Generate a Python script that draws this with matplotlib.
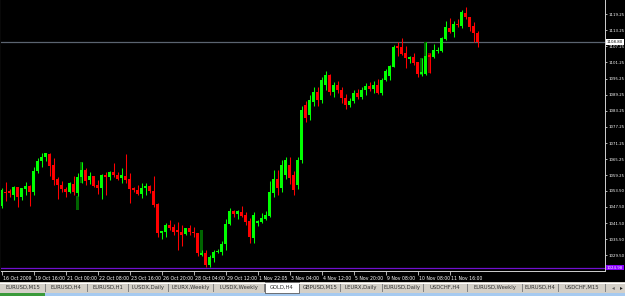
import numpy as np
import matplotlib
matplotlib.use("Agg")
import matplotlib.pyplot as plt
import matplotlib.transforms as mtransforms
from matplotlib.patches import Rectangle

# GOLD,H4 candles (index 0 = 16 Oct 2009)
opens = [1047.9, 1053.2, 1053.4, 1051.9, 1054.8, 1051.3, 1054.1, 1055.3, 1053.2, 1060.8,
         1064.6, 1066.2, 1067.2, 1063.2, 1057.8, 1055.7, 1054.2, 1053.2, 1056.0, 1052.8,
         1058.8, 1061.2, 1057.5, 1059.1, 1055.7, 1054.4, 1059.3, 1058.5, 1060.6, 1059.4,
         1058.2, 1059.1, 1057.9, 1054.4, 1053.8, 1052.3, 1054.4, 1055.4, 1053.6, 1048.6,
         1037.7, 1038.3, 1040.8, 1039.9, 1038.9, 1038.3, 1037.3, 1039.6, 1038.3, 1037.9,
         1029.6, 1030.3, 1025.9, 1028.4, 1030.9, 1030.9, 1033.7, 1041.2, 1046.1, 1044.9,
         1045.7, 1044.5, 1042.4, 1036.1, 1041.4, 1042.0, 1042.9, 1044.1, 1052.6, 1057.9,
         1054.4, 1059.4, 1063.1, 1059.4, 1055.7, 1065.0, 1085.4, 1081.7, 1086.5, 1090.2,
         1087.3, 1092.8, 1096.6, 1090.2, 1093.0, 1091.0, 1088.0, 1085.5, 1087.0, 1090.0,
         1088.5, 1091.0, 1092.5, 1091.5, 1093.0, 1089.9, 1094.7, 1096.2, 1099.7, 1107.4,
         1106.9, 1104.6, 1102.4, 1103.4, 1101.3, 1097.1, 1096.9, 1104.0, 1103.2, 1105.6,
         1105.6, 1109.8, 1114.2, 1112.7, 1115.5, 1114.8, 1119.7, 1118.0, 1114.8, 1112.3]
highs = [1054.5, 1056.9, 1054.2, 1055.3, 1055.0, 1054.7, 1056.7, 1055.7, 1062.2, 1065.6,
         1067.5, 1067.7, 1067.5, 1065.7, 1058.8, 1057.2, 1055.0, 1056.9, 1059.0, 1060.2,
         1064.1, 1061.9, 1060.6, 1059.1, 1057.5, 1059.8, 1060.4, 1061.0, 1063.7, 1060.6,
         1061.9, 1067.2, 1060.0, 1055.0, 1055.7, 1056.3, 1056.4, 1055.7, 1059.1, 1048.9,
         1038.6, 1041.4, 1042.6, 1041.2, 1042.0, 1040.8, 1039.6, 1040.8, 1040.2, 1037.9,
         1031.5, 1031.5, 1029.6, 1031.5, 1031.9, 1034.9, 1043.0, 1047.2, 1046.4, 1046.4,
         1048.0, 1045.5, 1043.3, 1045.5, 1042.6, 1045.1, 1046.0, 1057.2, 1061.2, 1061.2,
         1065.0, 1066.0, 1066.0, 1061.0, 1066.0, 1085.0, 1087.0, 1089.0, 1092.0, 1092.0,
         1096.0, 1098.0, 1097.0, 1094.0, 1094.5, 1092.0, 1089.5, 1088.0, 1091.0, 1091.5,
         1092.0, 1093.5, 1094.0, 1094.5, 1095.0, 1095.5, 1098.7, 1100.3, 1107.7, 1109.0,
         1110.4, 1107.5, 1103.6, 1104.9, 1101.5, 1102.9, 1109.0, 1104.6, 1108.0, 1106.9,
         1110.6, 1116.8, 1117.7, 1116.8, 1117.3, 1120.7, 1122.0, 1118.3, 1116.2, 1112.9]
lows = [1047.1, 1049.8, 1051.3, 1050.1, 1047.6, 1050.1, 1051.9, 1047.9, 1051.9, 1060.0,
        1062.2, 1064.7, 1059.0, 1055.7, 1050.5, 1053.2, 1051.3, 1052.6, 1051.9, 1051.6,
        1056.5, 1055.7, 1056.0, 1055.0, 1052.3, 1050.5, 1051.9, 1057.5, 1058.5, 1057.5,
        1056.3, 1056.3, 1048.9, 1053.2, 1051.9, 1050.7, 1051.9, 1052.6, 1047.6, 1036.4,
        1035.6, 1036.4, 1038.9, 1037.1, 1031.5, 1033.0, 1037.1, 1037.1, 1036.4, 1029.3,
        1029.3, 1025.1, 1025.1, 1027.1, 1030.3, 1029.6, 1031.5, 1040.8, 1043.9, 1042.9,
        1043.9, 1040.8, 1034.0, 1034.0, 1040.4, 1041.4, 1042.6, 1043.9, 1051.3, 1051.9,
        1053.0, 1058.0, 1056.0, 1052.0, 1054.0, 1064.0, 1079.0, 1080.0, 1085.0, 1085.0,
        1086.0, 1091.0, 1089.0, 1088.5, 1090.0, 1086.0, 1084.0, 1084.5, 1086.0, 1087.5,
        1087.5, 1089.0, 1090.5, 1090.0, 1089.5, 1089.1, 1094.2, 1094.7, 1099.6, 1103.6,
        1104.0, 1099.3, 1100.9, 1100.3, 1095.7, 1096.2, 1096.6, 1097.4, 1102.8, 1104.6,
        1105.2, 1109.6, 1112.1, 1110.6, 1114.5, 1113.9, 1117.3, 1113.0, 1109.0, 1107.1]
closes = [1053.8, 1052.6, 1052.7, 1054.8, 1051.3, 1054.5, 1055.3, 1053.2, 1060.8, 1064.6,
          1066.0, 1067.5, 1062.8, 1057.5, 1055.7, 1054.2, 1053.2, 1056.3, 1053.2, 1058.8,
          1061.2, 1057.2, 1059.0, 1055.3, 1054.4, 1059.4, 1058.8, 1060.6, 1059.4, 1057.8,
          1059.4, 1057.5, 1054.1, 1053.8, 1052.3, 1054.4, 1055.3, 1053.5, 1048.2, 1037.9,
          1038.6, 1040.8, 1039.6, 1038.3, 1038.2, 1037.1, 1039.6, 1038.3, 1037.9, 1030.3,
          1030.5, 1025.9, 1028.8, 1030.9, 1031.1, 1033.7, 1041.2, 1046.1, 1044.9, 1046.1,
          1044.2, 1042.0, 1036.2, 1044.5, 1042.4, 1043.5, 1044.5, 1052.9, 1057.9, 1054.4,
          1063.1, 1065.0, 1058.3, 1053.8, 1065.0, 1083.6, 1080.6, 1087.3, 1090.2, 1087.3,
          1094.7, 1096.6, 1090.2, 1093.0, 1091.0, 1088.0, 1085.5, 1087.0, 1090.0, 1088.5,
          1091.0, 1092.5, 1091.5, 1093.0, 1089.9, 1094.7, 1098.2, 1099.9, 1107.1, 1106.7,
          1104.4, 1103.0, 1103.4, 1100.9, 1096.9, 1097.7, 1103.6, 1103.4, 1105.9, 1105.9,
          1110.4, 1114.5, 1112.7, 1115.5, 1115.2, 1120.1, 1118.0, 1114.5, 1112.3, 1108.7]

# darker shadow bars seen behind a few candles
dark_idx = [19, 20, 50, 105, 106, 107]
dark_top = [1051.6, 1064.1, 1038.9, 1102.8, 1109.0, 1104.6]
dark_bot = [1046.4, 1056.5, 1030.3, 1096.6, 1103.6, 1097.4]
dark_up = [True, True, True, True, True, False]

price_ticks = [1119.25, 1113.25, 1107.25, 1101.25, 1095.25, 1089.25, 1083.25, 1077.25,
               1071.25, 1065.25, 1059.25, 1053.50, 1047.50, 1041.50, 1035.50, 1029.50]
time_ticks = [0, 8, 16, 24, 32, 40, 48, 56, 64, 72, 80, 88, 96, 104, 112]
time_labels = ["16 Oct 2009", "19 Oct 16:00", "21 Oct 00:00", "22 Oct 08:00", "23 Oct 16:00",
               "26 Oct 20:00", "28 Oct 04:00", "29 Oct 12:00", "1 Nov 22:05", "3 Nov 04:00",
               "4 Nov 12:00", "5 Nov 20:00", "9 Nov 08:00", "10 Nov 08:00", "11 Nov 16:00"]
bid_price = 1108.84
bid_label = "1108.80"
alert_price = 1024.98
alert_label = "1024.98"

tabs = ["EURUSD,M15", "EURUSD,H4", "EURUSD,H1", "I.USDX,Daily", "I.EURX,Weekly",
        "I.USDX,Weekly", "GOLD,H4", "GBPUSD,M15", "I.EURX,Daily", "EURUSD,Daily",
        "USDCHF,H4", "EURUSD,Weekly", "EURUSD,H4", "USDCHF,M15"]
tab_edges = [0, 45, 87, 128, 168, 213, 264, 300, 340, 382, 423, 467, 522, 558, 605]
active_tab = "GOLD,H4"

W, H = 625, 296
fig = plt.figure(figsize=(W / 100, H / 100), dpi=100, facecolor="black")

# window decoration: tabs strip at the bottom
deco = fig.add_axes([0, 0, 1, 1])
deco.set_xlim(0, W)
deco.set_ylim(H, 0)
deco.axis("off")
deco.add_patch(Rectangle((0, 282), W, 11, facecolor="#d4d0c8", edgecolor="none"))
deco.add_patch(Rectangle((0, 293), 45, 3, facecolor="#3a9a3a", edgecolor="none"))
deco.add_patch(Rectangle((45, 293), W - 45, 3, facecolor="#a6caf0", edgecolor="none"))
deco.plot([0, W], [282.5, 282.5], color="#ffffff", lw=0.7)
for k, name in enumerate(tabs):
    x0, x1 = tab_edges[k], tab_edges[k + 1]
    if name == active_tab:
        deco.add_patch(Rectangle((x0 + 1, 281.5), x1 - x0 - 2, 11, facecolor="white",
                                 edgecolor="#404040", lw=0.5))
    else:
        deco.plot([x1, x1], [284, 291], color="#808080", lw=0.7)
    deco.text((x0 + x1) / 2, 287.5, name, fontsize=3.8, color="#303030",
              ha="center", va="center")
deco.text(613, 287.5, "\u25c2", fontsize=4, color="#606060", ha="center", va="center")
deco.text(621, 287.5, "\u25b8", fontsize=4, color="#202020", ha="center", va="center")
deco.plot([0.5, 0.5], [0, 271], color="#a0a0a0", lw=0.8)

# chart area
ax = fig.add_axes([1 / W, (H - 271) / H, 604 / W, 271 / H])
ax.set_facecolor("black")
ax.set_xlim(-0.125, 150.875)
ax.set_ylim(1023.68, 1124.46)

dk_colors = ["#006400" if u else "#800000" for u in dark_up]
ax.bar(dark_idx, np.array(dark_top) - np.array(dark_bot), bottom=dark_bot, width=0.75,
       color=dk_colors, edgecolor="none", zorder=2.5)

idx = np.arange(len(opens))
o = np.array(opens)
c = np.array(closes)
up = c >= o
colors = np.where(up, "#00ff00", "#ff0000")

ax.vlines(idx, lows, highs, colors=colors, lw=0.75, zorder=3)
bottom = np.minimum(o, c)
height = np.maximum(np.abs(c - o), 0.37)
ax.bar(idx, height, bottom=bottom, width=0.75, color=colors, edgecolor="none", zorder=4)

ax.axhline(bid_price, color="#5b6470", lw=0.9, zorder=2)
ax.axhline(alert_price, color="#7010d0", lw=0.9, zorder=2)

for side in ["top", "left"]:
    ax.spines[side].set_visible(False)
ax.spines["right"].set_color("#d0d0d0")
ax.spines["bottom"].set_color("#d0d0d0")
ax.spines["right"].set_linewidth(0.7)
ax.spines["bottom"].set_linewidth(0.7)

ax.yaxis.tick_right()
ax.set_yticks(price_ticks)
ax.set_yticklabels(["%.2f" % v for v in price_ticks])
ax.tick_params(axis="y", colors="#d0d0d0", labelcolor="white", length=1.5, width=0.6,
               pad=0.8, labelsize=2.8)
ax.set_xticks(time_ticks)
ax.set_xticklabels(time_labels)
ax.tick_params(axis="x", colors="#d0d0d0", labelcolor="white", length=3, width=0.6,
               pad=0.6, labelsize=3.3)
shift = mtransforms.ScaledTranslation(1.5 / 100, 0, fig.dpi_scale_trans)
for lab in ax.get_xticklabels():
    lab.set_ha("left")
    lab.set_transform(lab.get_transform() + shift)

yx = mtransforms.blended_transform_factory(ax.transAxes, ax.transData)
ax.text(1.003, bid_price, bid_label, transform=yx, fontsize=2.8, color="black",
        ha="left", va="center", clip_on=False, zorder=6,
        bbox=dict(boxstyle="square,pad=0.15", facecolor="white", edgecolor="none"))
ax.text(1.003, alert_price, alert_label, transform=yx, fontsize=2.8, color="white",
        ha="left", va="center", clip_on=False, zorder=6,
        bbox=dict(boxstyle="square,pad=0.15", facecolor="#8a00ff", edgecolor="none"))

fig.savefig("out.png", dpi=100, facecolor="black")
